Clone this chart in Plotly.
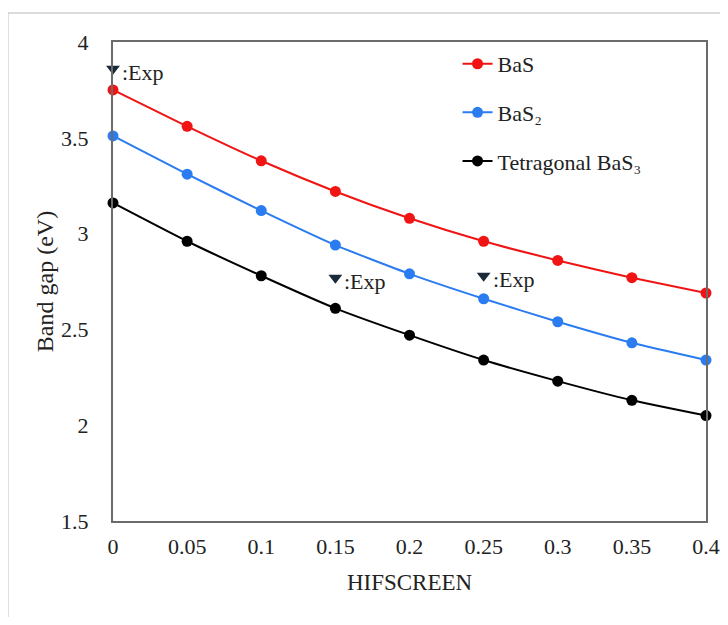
import plotly.graph_objects as go

hifscreen = [0, 0.05, 0.1, 0.15, 0.2, 0.25, 0.3, 0.35, 0.4]
bas = [3.75, 3.56, 3.38, 3.22, 3.08, 2.96, 2.86, 2.77, 2.69]
bas2 = [3.51, 3.31, 3.12, 2.94, 2.79, 2.66, 2.54, 2.43, 2.34]
bas3 = [3.16, 2.96, 2.78, 2.61, 2.47, 2.34, 2.23, 2.13, 2.05]
exp_x = [0, 0.15, 0.25]
exp_y = [3.86, 2.77, 2.78]
exp_label = ":Exp"

series = [
    ("BaS", bas, "#f01414"),
    ("BaS₂", bas2, "#2a7cf0"),
    ("Tetragonal BaS₃", bas3, "#000000"),
]

FONT = "Liberation Serif, Times New Roman, serif"

fig = go.Figure()
for i, (name, vals, col) in enumerate(series):
    fig.add_trace(go.Scatter(
        x=hifscreen, y=vals, name=name, mode="lines+markers",
        line=dict(color=col, width=2, shape="spline", smoothing=0.5),
        marker=dict(color=col, size=11),
        legendgroup=f"g{i}", cliponaxis=False,
    ))

fig.add_trace(go.Scatter(
    x=exp_x, y=exp_y, mode="markers", showlegend=False,
    marker=dict(symbol="triangle-down", color="#1b2a38", size=12),
    cliponaxis=False,
))
for ex, ey in zip(exp_x, exp_y):
    fig.add_annotation(x=ex, y=ey, text=exp_label, showarrow=False,
                       xanchor="left", yanchor="middle", xshift=7, yshift=-4,
                       font=dict(family=FONT, size=22, color="#222"))

# outer light frame of the original picture
fig.add_shape(type="rect", xref="paper", yref="paper",
              x0=-0.1772, x1=1.08, y0=-0.30, y1=1.0606,
              line=dict(color="#cfcfcf", width=1.5), layer="below")

axis_common = dict(showgrid=False, zeroline=False, showline=True, mirror=True,
                   linecolor="#6b6b6b", linewidth=2, ticks="", automargin=False,
                   tickfont=dict(family=FONT, size=22, color="#222"))

fig.update_layout(
    width=712, height=609,
    margin=dict(l=105, r=14, t=34, b=96),
    paper_bgcolor="white", plot_bgcolor="white",
    font=dict(family=FONT, size=22, color="#222"),
    showlegend=True,
    legend=dict(x=0.581, y=0.998, xanchor="left", yanchor="top",
                bgcolor="rgba(0,0,0,0)", borderwidth=0,
                tracegroupgap=17, font=dict(family=FONT, size=22, color="#222")),
    xaxis=dict(range=[0, 0.4], dtick=0.05, tick0=0,
               title=dict(text="HIFSCREEN", font=dict(family=FONT, size=23, color="#222"), standoff=15),
               ticklabelstandoff=5, **axis_common),
    yaxis=dict(range=[1.5, 4], dtick=0.5, tick0=1.5,
               title=dict(text="Band gap (eV)", font=dict(family=FONT, size=24, color="#222"), standoff=1),
               ticklabelstandoff=18, **axis_common),
)

fig.write_html("out.html")
